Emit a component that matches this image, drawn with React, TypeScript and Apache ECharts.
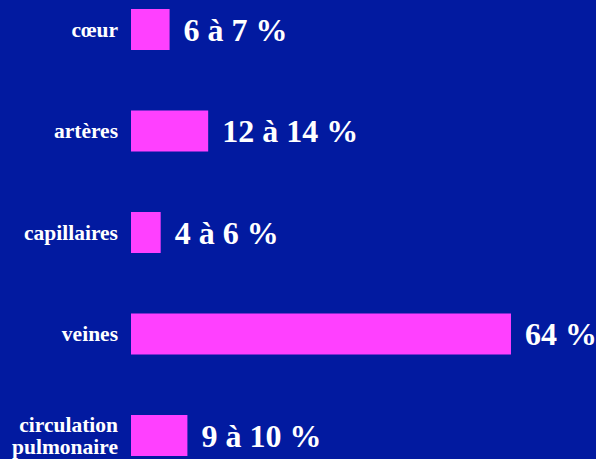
import React, { useEffect, useRef } from "react";
import * as echarts from "echarts";

const categories = ["cœur", "artères", "capillaires", "veines", "circulation\npulmonaire"];
const values = [6.5, 13, 5, 64, 9.5];
const valueLabels = ["6 à 7 %", "12 à 14 %", "4 à 6 %", "64 %", "9 à 10 %"];

export default function App() {
  const ref = useRef<HTMLDivElement>(null);
  useEffect(() => {
    if (!ref.current) return;
    const chart = echarts.init(ref.current, undefined, { renderer: "svg" });
    chart.setOption({
      animation: false,
      backgroundColor: "#021AA0",
      grid: { left: 131, right: 49.4, top: 29.5, bottom: 23.5, containLabel: false },
      xAxis: { type: "value", min: 0, max: 70, show: false },
      yAxis: {
        type: "category",
        data: categories,
        inverse: true,
        boundaryGap: false,
        axisLine: { show: false },
        axisTick: { show: false },
        splitLine: { show: false },
        axisLabel: {
          color: "#ffffff",
          fontFamily: "Liberation Serif",
          fontWeight: "bold",
          fontSize: 21.5,
          lineHeight: 22,
          margin: 13,
          align: "right",
        },
      },
      series: [
        {
          type: "bar",
          data: values,
          barWidth: 41,
          itemStyle: { color: "#FF40FF" },
          label: {
            show: true,
            position: "right",
            distance: 14,
            color: "#ffffff",
            fontFamily: "Liberation Serif",
            fontWeight: "bold",
            fontSize: 32,
            formatter: (p: any) => valueLabels[p.dataIndex],
          },
        },
      ],
    });
    return () => chart.dispose();
  }, []);
  return (
    <div
      ref={ref}
      style={{ position: "fixed", left: 0, top: 0, width: 596, height: 459 }}
    />
  );
}
